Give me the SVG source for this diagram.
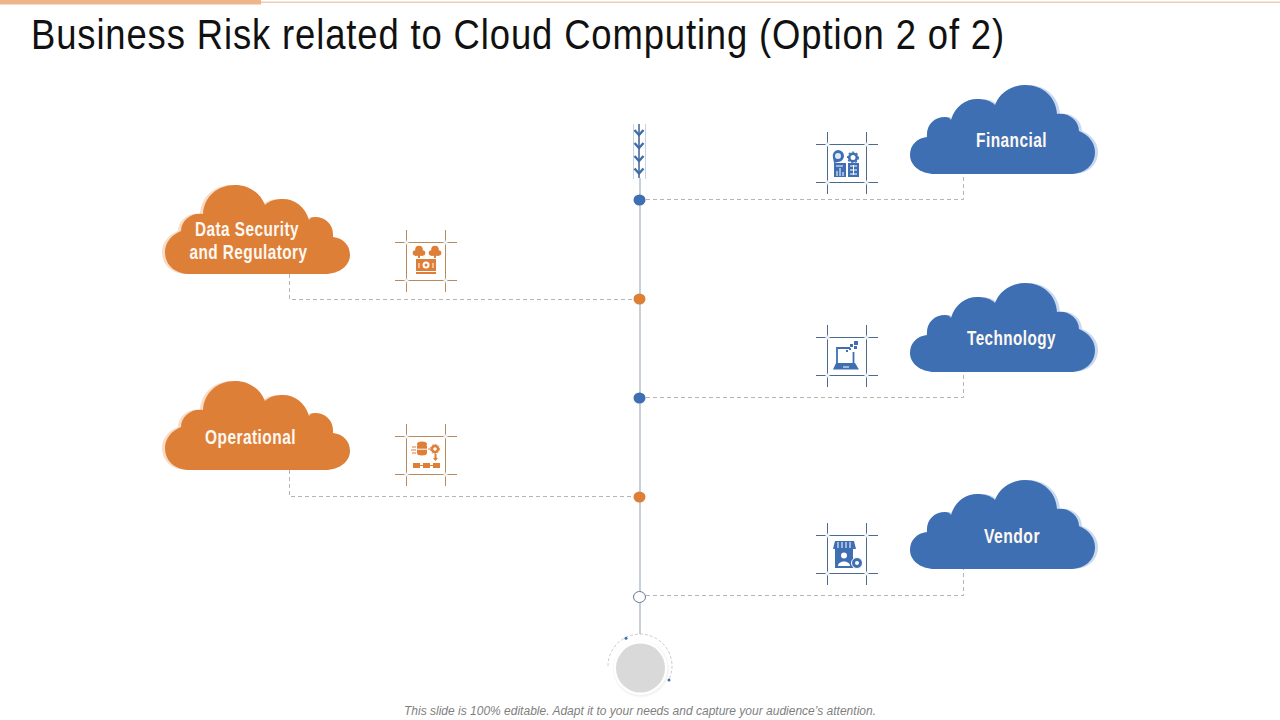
<svg xmlns="http://www.w3.org/2000/svg" xmlns:xlink="http://www.w3.org/1999/xlink" width="1280" height="720" viewBox="0 0 1280 720">
<style>
text{font-family:"Liberation Sans Narrow","Liberation Sans",Arial,sans-serif}
.lbl{font-size:20px;font-weight:700;fill:#fdf8f2;text-anchor:middle;letter-spacing:.6px}
.dash{fill:none;stroke:#b5b5b5;stroke-width:1;stroke-dasharray:4 3}
.b{color:#4a6a8f}.o{color:#b98a5c}
.bf{fill:#3f6fb3}.of{fill:#de7f38}
.bs{stroke:#3f6fb3;fill:none}.os{stroke:#de7f38;fill:none}
</style>
<defs>
<path id="cloud" d="M935 174C920 174 910 165 910 155C910 145 917 138 927 137C926 125 934 117 945 117C948 117 950 118 951 120C955 106 966 99 977 99C985 99 991 101 995 105C1000 92 1012 85 1025 85C1043 85 1056 97 1057 114C1068 112 1079 120 1079 131C1089 135 1095 143 1095 152C1095 165 1085 174 1070 174Z"/>
<g id="frame" fill="none" stroke="currentColor" stroke-width="1">
<path d="M0.5 0.5H39.5V38.5H0.5Z"/>
<path d="M-11 0.5H0M39.5 0.5H51M-11 38.5H0M39.5 38.5H51M0.5 -12V0M39.5 -12V0M0.5 38.5V50M39.5 38.5V50"/>
<g fill="#fff" stroke="#dfe4ea"><circle cx="0.5" cy="0.5" r="1.6"/><circle cx="39.5" cy="0.5" r="1.6"/><circle cx="0.5" cy="38.5" r="1.6"/><circle cx="39.5" cy="38.5" r="1.6"/></g>
</g>
<radialGradient id="halo" cx="0.5" cy="0.5" r="0.5"><stop offset="0.85" stop-color="#cfcfcf"/><stop offset="1" stop-color="#cfcfcf" stop-opacity="0"/></radialGradient>
</defs>
<rect width="1280" height="720" fill="#fff"/>
<g id="header">
<rect x="261" y="1.5" width="1019" height="1.5" fill="#eccdb8"/>
<rect x="0" y="0" width="261" height="4.5" fill="#f0b48a"/>
<text x="31" y="49" font-size="42" fill="#111" letter-spacing="1" textLength="974" lengthAdjust="spacingAndGlyphs">Business Risk related to Cloud Computing (Option 2 of 2)</text>
</g>
<g id="connectors">
<path d="M640 178V634" fill="none" stroke="#a9b5c5" stroke-width="1.300"/>
<path class="dash" d="M646 199.500H963.500V174"/>
<path class="dash" d="M646 397.500H963.500V372"/>
<path class="dash" d="M646 595.500H963.500V569"/>
<path class="dash" d="M289.500 274V299.500H634"/>
<path class="dash" d="M289.500 470V496.500H634"/>
</g>
<g id="arrow">
<path d="M633.500 124V179M645.500 124V179" fill="none" stroke="#c5d2e6" stroke-width="1"/>
<path d="M639 124V178" fill="none" stroke="#3f5f8f" stroke-width="1.500"/>
<path d="M634.500 130L639 135L643.500 130M634.500 143L639 148L643.500 143M634.500 156L639 161L643.500 156M634.500 168.500L639 173.500L643.500 168.500" fill="none" stroke="#3f6cab" stroke-width="2.400"/>
</g>
<g id="dot-1"><ellipse cx="639.500" cy="200" rx="6" ry="5.500" fill="#3f6fb3"/></g>
<g id="dot-2"><ellipse cx="639.500" cy="299" rx="6" ry="5.500" fill="#de7f38"/></g>
<g id="dot-3"><ellipse cx="639.500" cy="398" rx="6" ry="5.500" fill="#3f6fb3"/></g>
<g id="dot-4"><ellipse cx="639.500" cy="497" rx="6" ry="5.500" fill="#de7f38"/></g>
<g id="dot-5"><ellipse cx="639.500" cy="597" rx="6" ry="5.500" fill="#fff" stroke="#5f7a9c" stroke-width="1"/></g>
<g id="financial">
<use xlink:href="#cloud" href="#cloud" transform="translate(3 0)" fill="#c9d9f0"/>
<use xlink:href="#cloud" href="#cloud" class="bf"/>
<text class="lbl" x="1011.500" y="147" textLength="71" lengthAdjust="spacingAndGlyphs">Financial</text>
<use xlink:href="#frame" href="#frame" class="b" x="827" y="144"/>
<path d="M838 150A6 6 0 0 1 838 162L834 163L833 158A6 6 0 0 1 838 150Z" class="bf"/><circle cx="838" cy="156" r="3" fill="#dfe8f5"/>
<circle cx="853" cy="157.500" r="3.800" class="bs" stroke-width="2.600"/>
<circle cx="853" cy="157.500" r="5.400" fill="none" stroke="#3f6fb3" stroke-width="1.200" stroke-dasharray="2 2"/>
<rect x="848" y="163" width="11" height="14" class="bf"/><path d="M850 166h7M850 170h7M850 174h7M853.500 165v10" stroke="#fff" stroke-width="1"/>
<path d="M834 163H846V177H834Z" class="bf"/><path d="M836 166h7M837 176v-5M840 176v-8M843 176v-4" stroke="#fff" stroke-width="1"/>
</g>
<g id="technology">
<use xlink:href="#cloud" href="#cloud" transform="translate(3 198)" fill="#c9d9f0"/>
<use xlink:href="#cloud" href="#cloud" class="bf" transform="translate(0 198)"/>
<text class="lbl" x="1011.500" y="345" textLength="89" lengthAdjust="spacingAndGlyphs">Technology</text>
<use xlink:href="#frame" href="#frame" class="b" x="827" y="337"/>
<path d="M837 363V348H850" fill="none" stroke="#3f6fb3" stroke-width="1.800"/><path d="M853.500 352V363" fill="none" stroke="#3f6fb3" stroke-width="1.800"/>
<path d="M836 363H855L859 369.500H833Z" class="bf"/><path d="M843 367h6" stroke="#fff"/>
<path d="M854 341h4v4h-4ZM850 344h3v3h-3ZM854 346h3v3h-3ZM849 348h2v2h-2ZM846 350h2v2h-2Z" class="bf"/>
</g>
<g id="vendor">
<use xlink:href="#cloud" href="#cloud" transform="translate(3 395)" fill="#c9d9f0"/>
<use xlink:href="#cloud" href="#cloud" class="bf" transform="translate(0 395)"/>
<text class="lbl" x="1012" y="543" textLength="56" lengthAdjust="spacingAndGlyphs">Vendor</text>
<use xlink:href="#frame" href="#frame" class="b" x="827" y="535"/>
<path d="M835 541H854L856 549H833Z" class="bf"/><path d="M838 542v6M842 542v6M846 542v6M850 542v6" stroke="#fff"/>
<rect x="835" y="549" width="18" height="19" class="bf"/>
<circle cx="844" cy="555.500" r="3" fill="#fff"/><path d="M838 566C838 560 850 560 850 566Z" fill="#fff"/>
<circle cx="857" cy="563" r="5.500" class="bf" stroke="#fff"/><circle cx="857" cy="563" r="2" fill="#fff"/>
</g>
<g id="data-security">
<use xlink:href="#cloud" href="#cloud" transform="translate(1257 100) scale(-1 1)" fill="#f8dcc6"/>
<use xlink:href="#cloud" href="#cloud" class="of" transform="translate(1260 100) scale(-1 1)"/>
<text class="lbl" x="247" y="236" textLength="104" lengthAdjust="spacingAndGlyphs">Data Security</text>
<text class="lbl" x="248.500" y="259" textLength="118" lengthAdjust="spacingAndGlyphs">and Regulatory</text>
<use xlink:href="#frame" href="#frame" class="o" x="406" y="242"/>
<g class="of"><circle cx="419" cy="249.500" r="3.800"/><circle cx="415.500" cy="253" r="2.800"/><circle cx="422.500" cy="253" r="2.800"/><rect x="415" y="253" width="8" height="2.800"/><rect x="418" y="255" width="2" height="3"/>
<circle cx="435" cy="249.500" r="3.800"/><circle cx="431.500" cy="253" r="2.800"/><circle cx="438.500" cy="253" r="2.800"/><rect x="431" y="253" width="8" height="2.800"/><rect x="434" y="255" width="2" height="3"/></g>
<rect x="416" y="259" width="20" height="12" class="of"/>
<rect x="416" y="272" width="20" height="2" class="of"/>
<circle cx="426" cy="265" r="3.500" fill="#fff"/><circle cx="426" cy="265" r="1.500" class="of"/>
<path d="M419 263v5M433 263v5" stroke="#fff"/>
</g>
<g id="operational">
<use xlink:href="#cloud" href="#cloud" transform="translate(1257 296) scale(-1 1)" fill="#f8dcc6"/>
<use xlink:href="#cloud" href="#cloud" class="of" transform="translate(1260 296) scale(-1 1)"/>
<text class="lbl" x="250.500" y="444" textLength="91" lengthAdjust="spacingAndGlyphs">Operational</text>
<use xlink:href="#frame" href="#frame" class="o" x="406" y="436"/>
<ellipse cx="422" cy="444" rx="5" ry="2.500" class="of"/><rect x="417" y="445.500" width="10" height="3.200" class="of"/><rect x="417" y="449.700" width="10" height="3.200" class="of"/><ellipse cx="422" cy="453" rx="5" ry="2.500" class="of"/>
<path d="M412 447h4M411 450h5M412 453h4M428 449h3" class="os" stroke-width="1"/>
<circle cx="435" cy="449" r="3" class="os" stroke-width="2.400"/>
<circle cx="435" cy="449" r="4.600" fill="none" stroke="#de7f38" stroke-width="1" stroke-dasharray="1.500 1.500"/>
<path d="M435.500 454V460" class="os" stroke-width="2"/><path d="M433 458h5l-2.500 3Z" class="of"/>
<rect x="413" y="463" width="7" height="5" class="of"/><rect x="423" y="463" width="7" height="5" class="of"/><rect x="433" y="463" width="7" height="5" class="of"/>
<path d="M420 465.500h3M430 465.500h3" class="os"/>
</g>
<g id="hub">
<circle cx="641" cy="669" r="29" fill="url(#halo)" opacity="0.5"/>
<circle cx="640.500" cy="668" r="27" fill="#fff"/>
<circle cx="640.500" cy="668" r="24.500" fill="#d9d9d9"/>
<path d="M608 666A32 32 0 1 1 668.300 681" fill="none" stroke="#bcbcbc" stroke-width="0.800" stroke-dasharray="3 2"/>
<circle cx="626" cy="638.300" r="1.500" fill="#3f6fb3"/>
<circle cx="669" cy="680" r="1.500" fill="#3f6fb3"/>
</g>
<text id="footer" x="640" y="715" font-size="12" font-style="italic" fill="#7f7f7f" text-anchor="middle" textLength="472" style="font-family:'Liberation Sans',Arial,sans-serif">This slide is 100% editable. Adapt it to your needs and capture your audience’s attention.</text>
</svg>
